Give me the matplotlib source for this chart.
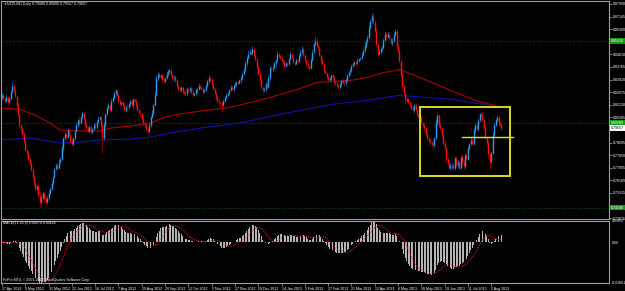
import numpy as np
import pandas as pd
import matplotlib
matplotlib.use('Agg')
import matplotlib.pyplot as plt
from matplotlib.patches import Rectangle
from matplotlib.transforms import blended_transform_factory

plt.rcParams['font.family'] = ['Liberation Sans', 'DejaVu Sans']

symbol = 'NZDUSD,Daily'

# NZDUSD daily closes, in pips (1e-4), 17 Apr 2012 .. mid Aug 2013
closes_pips = [
    8190, 8165, 8150, 8175, 8140, 8160, 8210, 8250, 8225, 8180, 8120, 8060, 7985, 7960, 7930, 7880, 7820, 7800, 7760, 7730,
    7690, 7640, 7600, 7560, 7580, 7520, 7470, 7500, 7530, 7490, 7470, 7500, 7530, 7560, 7600, 7640, 7690, 7720, 7700, 7740,
    7760, 7830, 7900, 7930, 7910, 7955, 7920, 7880, 7860, 7900, 7950, 7990, 8020, 8000, 8040, 8065, 8030, 7990, 7970, 7950,
    7975, 7940, 7960, 7990, 7975, 8010, 8030, 8040, 7980, 7900, 7990, 8060, 8100, 8120, 8090, 8150, 8170, 8200, 8220, 8190,
    8150, 8130, 8140, 8120, 8090, 8110, 8105, 8130, 8150, 8120, 8160, 8150, 8120, 8090, 8070, 8065, 8030, 8000, 7990, 7960,
    7945, 7990, 8040, 8066, 8120, 8190, 8300, 8330, 8310, 8320, 8290, 8280, 8300, 8330, 8345, 8355, 8320, 8300, 8310, 8286,
    8250, 8230, 8220, 8240, 8210, 8200, 8200, 8230, 8220, 8235, 8210, 8190, 8200, 8220, 8230, 8250, 8240, 8230, 8210, 8220,
    8250, 8280, 8300, 8295, 8260, 8230, 8200, 8170, 8150, 8140, 8133, 8120, 8150, 8170, 8190, 8200, 8220, 8240, 8230, 8253,
    8260, 8275, 8270, 8286, 8300, 8330, 8353, 8400, 8440, 8466, 8480, 8470, 8499, 8460, 8433, 8380, 8330, 8286, 8240, 8220,
    8230, 8260, 8240, 8300, 8373, 8360, 8373, 8400, 8420, 8466, 8450, 8439, 8420, 8406, 8380, 8400, 8399, 8430, 8466, 8440,
    8410, 8399, 8420, 8419, 8450, 8480, 8499, 8460, 8420, 8399, 8380, 8373, 8420, 8480, 8530, 8553, 8520, 8506, 8460, 8420,
    8399, 8350, 8333, 8310, 8286, 8300, 8320, 8306, 8280, 8266, 8250, 8240, 8260, 8286, 8270, 8266, 8290, 8320, 8340, 8353,
    8380, 8399, 8410, 8400, 8419, 8430, 8439, 8460, 8486, 8520, 8550, 8573, 8640, 8686, 8719, 8680, 8619, 8530, 8466, 8480,
    8500, 8506, 8560, 8599, 8580, 8599, 8570, 8540, 8553, 8590, 8619, 8520, 8486, 8419, 8330, 8250, 8200, 8153, 8160, 8140,
    8120, 8100, 8086, 8120, 8090, 8060, 8050, 8040, 8000, 7990, 7966, 7930, 7900, 7880, 7873, 7860, 7853, 7900, 8000, 8053,
    7990, 7966, 7920, 7870, 7833, 7760, 7733, 7700, 7720, 7720, 7700, 7767, 7720, 7740, 7700, 7773, 7740, 7710, 7787, 7760,
    7833, 7860, 7887, 7860, 7953, 7990, 7960, 8020, 8060, 8053, 8020, 7966, 7900, 7867, 7790, 7740, 7800, 7920, 7990, 8020,
    8040, 8000, 7990, 7965.7,
]
first_open_pips = 8175

# wick lengths above / below the body, in steps of 5 pips
wick_up = [
    2, 3, 1, 4, 2, 3, 2, 5, 3, 2, 1, 3, 2, 2, 1, 3, 2, 1, 2, 3,
    2, 1, 3, 2, 1, 2, 4, 3, 2, 1, 3, 2, 4, 2, 3, 1, 2, 3, 2, 4,
    3, 5, 2, 3, 1, 2, 3, 2, 4, 2, 1, 3, 2, 5, 2, 3, 2, 1, 3, 2,
    2, 3, 1, 2, 4, 2, 3, 1, 2, 5, 3, 2, 1, 3, 2, 4, 2, 3, 2, 1,
    3, 2, 1, 2, 3, 2, 4, 1, 2, 3, 2, 1, 3, 2, 2, 3, 1, 2, 3, 2,
    1, 3, 2, 4, 3, 5, 4, 2, 3, 1, 2, 3, 2, 4, 3, 2, 1, 2, 3, 2,
    2, 1, 3, 2, 1, 2, 3, 2, 1, 3, 2, 2, 1, 3, 2, 4, 2, 1, 2, 3,
    2, 3, 4, 2, 1, 2, 3, 1, 2, 2, 1, 3, 2, 3, 2, 1, 2, 3, 2, 2,
    3, 2, 1, 2, 3, 2, 4, 3, 2, 5, 3, 2, 4, 2, 3, 1, 2, 3, 2, 1,
    2, 3, 2, 3, 4, 2, 2, 3, 1, 4, 2, 3, 2, 1, 3, 2, 1, 3, 4, 2,
    2, 1, 3, 2, 3, 4, 3, 2, 1, 2, 3, 2, 3, 4, 2, 5, 3, 2, 2, 1,
    3, 2, 1, 2, 3, 2, 1, 2, 3, 1, 2, 3, 2, 1, 3, 2, 3, 2, 1, 2,
    3, 2, 1, 2, 3, 2, 1, 3, 4, 3, 2, 3, 4, 3, 4, 3, 2, 4, 2, 3,
    2, 3, 2, 4, 2, 3, 2, 1, 3, 4, 3, 2, 3, 2, 1, 2, 3, 1, 2, 3,
    2, 1, 3, 2, 3, 1, 2, 2, 3, 1, 2, 3, 2, 1, 3, 2, 1, 2, 5, 3,
    2, 3, 1, 2, 3, 2, 1, 2, 3, 4, 2, 3, 2, 2, 3, 2, 4, 2, 3, 2,
    3, 2, 4, 2, 3, 2, 4, 3, 2, 3, 5, 2, 3, 1, 2, 3, 2, 4, 3, 2,
    3, 2, 3, 2,
]
wick_dn = [
    2, 1, 3, 2, 4, 2, 1, 2, 3, 2, 3, 2, 4, 3, 2, 3, 2, 4, 3, 2,
    3, 2, 4, 3, 2, 4, 6, 3, 2, 4, 3, 2, 3, 1, 2, 3, 2, 1, 3, 2,
    2, 1, 3, 2, 3, 2, 1, 3, 2, 3, 2, 1, 3, 2, 1, 2, 3, 2, 4, 2,
    3, 2, 3, 1, 2, 3, 2, 1, 3, 20, 2, 3, 2, 1, 2, 3, 2, 1, 3, 2,
    2, 3, 2, 4, 2, 3, 1, 2, 3, 2, 4, 2, 3, 2, 1, 3, 2, 4, 3, 2,
    4, 2, 3, 1, 2, 1, 2, 3, 2, 1, 3, 2, 2, 1, 3, 2, 1, 2, 3, 2,
    3, 2, 1, 2, 3, 2, 2, 3, 1, 2, 3, 2, 1, 2, 3, 2, 1, 2, 3, 2,
    1, 2, 3, 2, 3, 2, 1, 2, 3, 2, 4, 9, 3, 2, 1, 3, 2, 1, 2, 3,
    2, 3, 1, 2, 3, 2, 1, 2, 3, 2, 1, 2, 3, 2, 3, 4, 2, 3, 2, 3,
    2, 3, 2, 1, 3, 2, 2, 1, 3, 2, 3, 2, 1, 3, 2, 1, 3, 2, 1, 2,
    3, 2, 1, 3, 2, 1, 2, 3, 2, 3, 4, 3, 2, 1, 2, 3, 2, 1, 2, 3,
    2, 3, 2, 3, 2, 1, 2, 3, 3, 4, 3, 4, 2, 3, 2, 3, 2, 1, 2, 3,
    2, 1, 2, 3, 2, 1, 2, 2, 1, 2, 3, 2, 1, 2, 3, 3, 2, 4, 3, 2,
    2, 3, 1, 2, 3, 2, 3, 2, 4, 2, 1, 3, 2, 3, 4, 3, 2, 3, 2, 3,
    2, 3, 2, 3, 1, 2, 3, 2, 3, 2, 4, 3, 2, 3, 4, 3, 5, 2, 3, 2,
    3, 2, 3, 4, 3, 4, 3, 2, 3, 5, 2, 3, 2, 4, 3, 2, 3, 2, 3, 2,
    2, 3, 2, 1, 2, 3, 2, 2, 3, 2, 3, 2, 3, 4, 5, 9, 3, 2, 3, 2,
    3, 2, 3, 2,
]

# moving averages, sampled at bar indices (pips)
red_ma_bars = [0, 12, 23, 33, 40, 54, 67, 74, 88, 102, 112, 122, 136, 157, 182, 205, 216, 239, 251, 262, 273, 287, 308, 325, 343]
red_ma_pips = [8100, 8093, 8053, 8000, 7953, 7947, 7947, 7966, 7980, 8000, 8040, 8060, 8080, 8106, 8166, 8233, 8273, 8286, 8306, 8339, 8359, 8306, 8220, 8153, 8106]
blue_ma_bars = [0, 19, 40, 54, 67, 88, 102, 115, 136, 163, 182, 205, 227, 251, 273, 308, 326, 343]
blue_ma_pips = [7887, 7900, 7867, 7873, 7887, 7893, 7907, 7933, 7966, 8000, 8040, 8086, 8126, 8153, 8186, 8160, 8133, 8106]

date_labels = ['17 Apr 2012', '9 May 2012', '31 May 2012', '22 Jun 2012', '16 Jul 2012', '7 Aug 2012',
               '29 Aug 2012', '20 Sep 2012', '12 Oct 2012', '5 Nov 2012', '27 Nov 2012', '19 Dec 2012',
               '14 Jan 2013', '5 Feb 2013', '27 Feb 2013', '21 Mar 2013', '12 Apr 2013', '6 May 2013',
               '28 May 2013', '19 Jun 2013', '11 Jul 2013', '2 Aug 2013']
price_ticks = [0.87990, 0.87145, 0.86300, 0.85455, 0.84610, 0.83765, 0.82920, 0.82075, 0.81230,
               0.80385, 0.79540, 0.78695, 0.77850, 0.77005, 0.76160, 0.75315, 0.74470, 0.73625]
level_lines = [0.85530, 0.80000, 0.74340]

# drawn objects: box around the recent range and a horizontal line
box_bars = (287, 349)
box_prices = (0.7647, 0.8106)
hline_bars = (316, 351)
hline_price = 0.7907

# build OHLC
close = np.array(closes_pips) / 1e4
opn = np.r_[first_open_pips / 1e4, close[:-1]]
high = np.maximum(opn, close) + np.array(wick_up) * 5 / 1e4
low = np.minimum(opn, close) - np.array(wick_dn) * 5 / 1e4
n = len(close)
idx = np.arange(n)

s = pd.Series(close)
macd = s.ewm(span=12, adjust=False).mean() - s.ewm(span=26, adjust=False).mean()
signal = macd.rolling(9, min_periods=1).mean()

W, H = 625, 291
fig = plt.figure(figsize=(W / 100, H / 100), dpi=100, facecolor='black')
ax = fig.add_axes([1 / W, 1 - 219 / H, 608 / W, 218 / H], facecolor='black')
ax2 = fig.add_axes([1 / W, 1 - 283 / H, 608 / W, 62 / H], facecolor='black')

xmin = -0.69
xmax = xmin + 608 / 1.456
for a in (ax, ax2):
    a.set_xlim(xmin, xmax)
    for sp in a.spines.values():
        sp.set_color('#a0a0a0')
        sp.set_linewidth(0.8)

# price panel
ax.set_ylim(0.7357, 0.8819)
for lv in level_lines:
    ax.axhline(lv, color='#007000', lw=0.6, ls=(0, (1, 2)), zorder=1)

ax.plot(red_ma_bars, np.array(red_ma_pips) / 1e4, color='#a80000', lw=0.8, zorder=2)
ax.plot(blue_ma_bars, np.array(blue_ma_pips) / 1e4, color='#1010b0', lw=0.8, zorder=2)

up = close >= opn
ax.vlines(idx[up], low[up], high[up], color='#1a6cc0', lw=0.5, zorder=3)
ax.vlines(idx[~up], low[~up], high[~up], color='#b00000', lw=0.5, zorder=3)
ax.vlines(idx[up], opn[up], close[up], color='#2a9df4', lw=1.0, zorder=4)
ax.vlines(idx[~up], close[~up], opn[~up], color='#ff1010', lw=1.0, zorder=4)

ax.add_patch(Rectangle((box_bars[0], box_prices[0]), box_bars[1] - box_bars[0],
                       box_prices[1] - box_prices[0], fill=False, ec='#d8d820', lw=1.4, zorder=5))
ax.plot(hline_bars, [hline_price, hline_price], color='#e8e800', lw=1.0, zorder=5)

# price scale; tick labels hidden where a level / current-price tag covers them
covered = list(level_lines) + [close[-1]]
tick_text = []
for v in price_ticks:
    if min(abs(v - c) for c in covered) < 0.0025:
        tick_text.append('')
    else:
        tick_text.append(f'{v:.5f}')
ax.set_xticks([])
ax.yaxis.tick_right()
ax.set_yticks(price_ticks)
ax.set_yticklabels(tick_text)
ax.tick_params(axis='y', colors='#a0a0a0', labelcolor='white', labelsize=2.6, length=2, width=0.5, pad=1)

tr = blended_transform_factory(ax.transAxes, ax.transData)
for lv in level_lines:
    ax.text(1.003, lv, f'{lv:.5f}', transform=tr, fontsize=2.6, color='white', va='center', ha='left',
            clip_on=False, zorder=10, bbox=dict(boxstyle='square,pad=0.25', fc='#129a12', ec='none'))
ax.text(1.003, close[-1], f'{close[-1]:.5f}', transform=tr, fontsize=2.6, color='black', va='center',
        ha='left', clip_on=False, zorder=10, bbox=dict(boxstyle='square,pad=0.25', fc='white', ec='none'))

fig.text(3 / W, 1 - 4 / H, '\u25bc', fontsize=2.2, color='white', va='center', ha='left')
fig.text(7 / W, 1 - 4 / H,
         f'{symbol} {opn[-1]:.5f} {high[-1]:.5f} {low[-1]:.5f} {close[-1]:.5f}',
         fontsize=2.6, color='white', va='center', ha='left')

# MACD panel
vals = np.r_[macd.values, signal.values]
lo, hi = vals.min(), vals.max()
ax2.set_ylim(lo, hi)
ax2.bar(idx, macd.values, width=0.6, color='#b4b4b4', zorder=2)
ax2.plot(idx, signal.values, color='#ff2020', lw=0.7, ls=(0, (1, 1.2)), zorder=3)
ax2.yaxis.tick_right()
ax2.set_yticks([hi, 0.0, lo])
ax2.set_yticklabels([f'{hi:.5f}', '0.00', f'{lo:.5f}'])
ax2.tick_params(axis='y', colors='#a0a0a0', labelcolor='white', labelsize=2.6, length=0, pad=2)
ax2.set_xticks(np.arange(len(date_labels)) * 16)
ax2.set_xticklabels(date_labels, ha='left')
ax2.tick_params(axis='x', colors='#a0a0a0', labelcolor='white', labelsize=2.6, length=2, width=0.5, pad=1)

fig.text(3 / W, 1 - 223 / H, f'MACD(12,26,9) {macd.values[-1]:.5f} {signal.values[-1]:.5f}',
         fontsize=2.6, color='white', va='center', ha='left')
fig.text(3 / W, 1 - 280 / H, 'FxPro MT4, \u00a9 2001-2013, MetaQuotes Software Corp.',
         fontsize=2.6, color='white', va='center', ha='left')

fig.savefig('out.png', dpi=100, facecolor='black')
